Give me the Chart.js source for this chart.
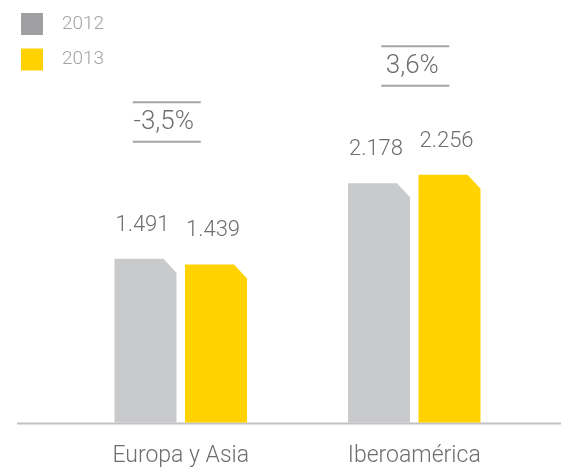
<!DOCTYPE html>
<html><head><meta charset="utf-8">
<script src="https://cdn.jsdelivr.net/npm/chart.js@4"></script>
<style>html,body{margin:0;padding:0;background:#fff}#wrap{width:561px;height:468px}</style>
</head><body><div id="wrap"><canvas id="c" width="561" height="468"></canvas></div>
<script>
// ---- data ----
const categories = ['Europa y Asia', 'Iberoamérica'];
const seriesNames = ['2012', '2013'];
const values2012 = [1491, 2178];
const values2013 = [1439, 2256];
const changeLabels = ['-3,5%', '3,6%'];

// ---- style ----
const barColors = ['#c9cacc', '#ffd200'];
const legendColors = ['#9e9ea3', '#ffd200'];
const textColor = '#6d6e71';
const FONT = 'Roboto';
const changeBoxOffsetX = [-14, 1];   // horizontal nudge of change box per category
const changeBoxLift = [117, 89];     // distance of box bottom rule above taller bar
const chamfer = 13;

const fmt = v => String(v).replace(/\B(?=(\d{3})+(?!\d))/g, '.');

const decor = {
  id: 'decor',
  beforeDatasetsDraw(chart) {
    const {ctx, width} = chart;
    const yb = chart.scales.y.getPixelForValue(0);
    ctx.save();
    ctx.strokeStyle = '#c2c2c4';
    ctx.lineWidth = 2;
    ctx.beginPath();
    ctx.moveTo(17, yb + 1);
    ctx.lineTo(width, yb + 1);
    ctx.stroke();
    ctx.restore();
  },
  beforeDatasetDraw(chart, args) {
    const {ctx} = chart;
    const meta = args.meta;
    ctx.save();
    ctx.fillStyle = barColors[args.index];
    meta.data.forEach(el => {
      const p = el.getProps(['x', 'y', 'base', 'width'], true);
      const l = p.x - p.width / 2, r = p.x + p.width / 2;
      const c = Math.min(chamfer, p.width / 2);
      ctx.beginPath();
      ctx.moveTo(l, p.base);
      ctx.lineTo(l, p.y);
      ctx.lineTo(r - c, p.y);
      ctx.lineTo(r, p.y + c + 1);
      ctx.lineTo(r, p.base);
      ctx.closePath();
      ctx.fill();
    });
    ctx.restore();
    return false;
  },
  afterDatasetsDraw(chart) {
    const {ctx} = chart;
    ctx.save();
    // value labels
    ctx.font = `300 22px ${FONT}`;
    ctx.fillStyle = textColor;
    ctx.textAlign = 'center';
    ctx.textBaseline = 'alphabetic';
    chart.data.datasets.forEach((ds, i) => {
      chart.getDatasetMeta(i).data.forEach((el, j) => {
        ctx.fillText(fmt(ds.data[j]), el.x - 3, el.y - 28);
      });
    });
    // change boxes
    const xs = chart.scales.x;
    categories.forEach((cat, j) => {
      let top = Infinity;
      chart.data.datasets.forEach((ds, i) => {
        top = Math.min(top, chart.getDatasetMeta(i).data[j].y);
      });
      const cx = xs.getPixelForValue(j) + changeBoxOffsetX[j];
      const yBot = top - changeBoxLift[j];
      const yTop = yBot - 39.5;
      ctx.strokeStyle = '#a5a5a8';
      ctx.lineWidth = 2;
      ctx.beginPath();
      ctx.moveTo(cx - 34, yTop); ctx.lineTo(cx + 34, yTop);
      ctx.moveTo(cx - 34, yBot); ctx.lineTo(cx + 34, yBot);
      ctx.stroke();
      ctx.font = `300 26px ${FONT}`;
      ctx.fillStyle = textColor;
      ctx.textBaseline = 'middle';
      ctx.textAlign = 'center';
      ctx.fillText(changeLabels[j], cx - 3, (yTop + yBot) / 2 + 1);
    });
    // legend
    ctx.font = `300 19px ${FONT}`;
    ctx.textAlign = 'left';
    ctx.textBaseline = 'middle';
    chart.data.datasets.forEach((ds, i) => {
      const y = 13 + i * 35.5;
      ctx.fillStyle = legendColors[i];
      ctx.fillRect(21, y, 22, 22);
      ctx.fillStyle = '#a3a3a6';
      ctx.fillText(ds.label, 62, y + 11);
    });
    ctx.restore();
  }
};

new Chart(document.getElementById('c'), {
  type: 'bar',
  data: {
    labels: categories,
    datasets: [
      {label: seriesNames[0], data: values2012, backgroundColor: barColors[0]},
      {label: seriesNames[1], data: values2013, backgroundColor: barColors[1]}
    ]
  },
  options: {
    responsive: false,
    animation: false,
    devicePixelRatio: 1,
    categoryPercentage: 0.604,
    barPercentage: 0.879,
    layout: {padding: {left: 64, right: 30, top: 93, bottom: -22}},
    plugins: {legend: {display: false}, tooltip: {enabled: false}},
    scales: {
      x: {
        grid: {display: false, drawTicks: false},
        border: {display: false},
        ticks: {padding: 20, color: textColor, font: {family: FONT, size: 23, weight: '300'}}
      },
      y: {display: false, min: 0, max: 3000}
    }
  },
  plugins: [decor]
});
</script></body></html>
